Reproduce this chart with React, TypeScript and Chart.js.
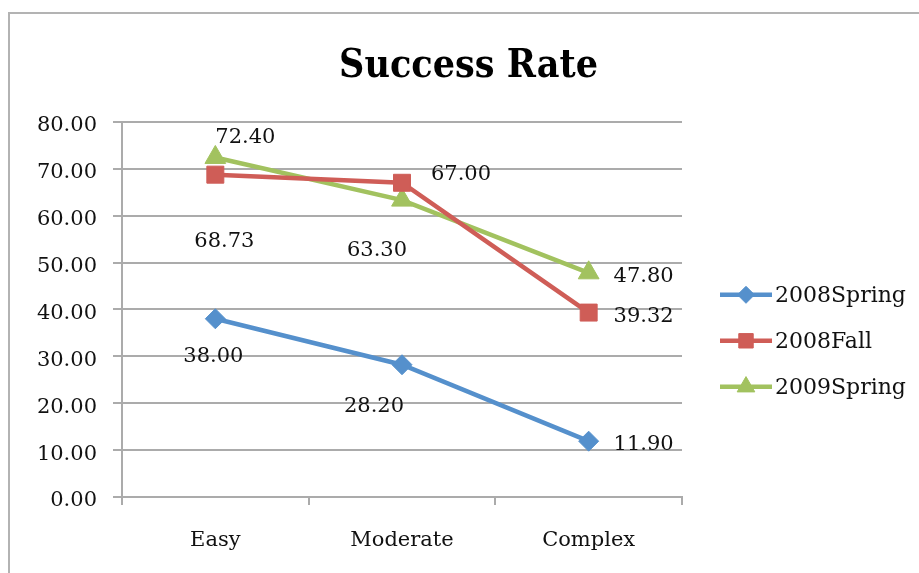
import React, { useEffect, useRef } from 'react';
import { Chart, registerables, layouts } from 'chart.js';
import { drawPoint } from 'chart.js/helpers';

Chart.register(...registerables);

// ---- data ----
const categories = ['Easy', 'Moderate', 'Complex'];
const seriesNames = ['2008Spring', '2008Fall', '2009Spring'];
const spring2008 = [38.0, 28.2, 11.9];
const fall2008 = [68.73, 67.0, 39.32];
const spring2009 = [72.4, 63.3, 47.8];
const yMin = 0;
const yMax = 80;
const yStep = 10;

// ---- styles ----
const SERIF = "'DejaVu Serif', serif";
const TITLE_FONT = "'DejaVu Serif Condensed', 'DejaVu Serif', serif";
const TEXT = '#111111';
const GRID = '#ababab';
const colors = ['#5590CC', '#CF5D57', '#A2C25F'];
const pointStyles = ['rectRot', 'rect', 'triangle'];
const pointRadii = [10, 12, 12];
// data label placement (px offset from each point), as in the original
const labelOffsets = [
  [[-2, 37.5], [-28, 41.5], [55, 3.5]],
  [[9, 66.5], [59, -8.5], [55, 3.5]],
  [[30, -19.5], [-25, 50.5], [55, 3.5]],
];
const LEGEND_WIDTH = 237;

const dataLabelPlugin = {
  id: 'dataLabels',
  afterDatasetsDraw(chart: any) {
    const ctx = chart.ctx;
    ctx.save();
    ctx.font = `21px ${SERIF}`;
    ctx.fillStyle = TEXT;
    ctx.textAlign = 'center';
    ctx.textBaseline = 'middle';
    chart.data.datasets.forEach((ds: any, di: number) => {
      const meta = chart.getDatasetMeta(di);
      meta.data.forEach((pt: any, i: number) => {
        const [dx, dy] = labelOffsets[di][i];
        ctx.fillText(Number(ds.data[i]).toFixed(2), pt.x + dx, pt.y + dy);
      });
    });
    ctx.restore();
  },
};

const sideLegendPlugin = {
  id: 'sideLegend',
  beforeInit(chart: any) {
    const box: any = {
      position: 'right',
      weight: 1000,
      fullSize: false,
      options: { stack: undefined, stackWeight: 1 },
      left: 0, top: 0, right: 0, bottom: 0, width: 0, height: 0,
      isHorizontal() { return false; },
      update(_mw: number, mh: number) { this.width = LEGEND_WIDTH; this.height = mh; },
      draw() {
        const ctx = chart.ctx;
        ctx.save();
        chart.data.datasets.forEach((ds: any, i: number) => {
          const y = this.top + 173 + i * 46;
          const x0 = this.left + 38;
          const x1 = x0 + 52;
          ctx.strokeStyle = ds.borderColor;
          ctx.lineWidth = ds.borderWidth;
          ctx.beginPath();
          ctx.moveTo(x0, y);
          ctx.lineTo(x1, y);
          ctx.stroke();
          ctx.fillStyle = ds.pointBackgroundColor;
          ctx.strokeStyle = ds.pointBorderColor;
          ctx.lineWidth = 1;
          drawPoint(ctx, { pointStyle: ds.pointStyle, radius: ds.pointRadius * 0.85, rotation: 0, borderWidth: 1 } as any, (x0 + x1) / 2, y);
          ctx.fillStyle = TEXT;
          ctx.font = `22px ${SERIF}`;
          ctx.textAlign = 'left';
          ctx.textBaseline = 'middle';
          ctx.fillText(ds.label, x1 + 3, y + 1);
        });
        ctx.restore();
      },
    };
    layouts.addBox(chart, box);
  },
};

export default function App() {
  const ref = useRef<HTMLCanvasElement | null>(null);

  useEffect(() => {
    document.body.style.margin = '0';
    document.body.style.overflow = 'hidden';
    if (!ref.current) return;
    const seriesData = [spring2008, fall2008, spring2009];
    const chart = new Chart(ref.current, {
      type: 'line',
      data: {
        labels: categories,
        datasets: seriesData.map((d, i) => ({
          label: seriesNames[i],
          data: d,
          borderColor: colors[i],
          backgroundColor: colors[i],
          borderWidth: 4.5,
          pointStyle: pointStyles[i] as any,
          pointRadius: pointRadii[i],
          pointHoverRadius: pointRadii[i],
          pointBackgroundColor: colors[i],
          pointBorderColor: colors[i],
          pointBorderWidth: 1,
          tension: 0,
          fill: false,
        })),
      },
      options: {
        responsive: false,
        animation: false,
        layout: { padding: { left: 8, top: 0, right: 0, bottom: 0 } },
        plugins: {
          legend: { display: false },
          tooltip: { enabled: false },
          title: {
            display: true,
            text: 'Success Rate',
            color: '#000',
            font: { family: TITLE_FONT, size: 39, weight: 'bold', lineHeight: 1.2 },
            padding: { top: 29, bottom: 32 },
          },
        },
        scales: {
          x: {
            type: 'category',
            offset: true,
            grid: { offset: true, drawOnChartArea: false, drawTicks: true, tickLength: 8, color: GRID, lineWidth: 2 },
            border: { display: true, color: GRID, width: 2 },
            ticks: { font: { family: SERIF, size: 21 }, color: TEXT, padding: 23, maxRotation: 0 },
            afterFit(s: any) { s.height = 76; },
          },
          y: {
            min: yMin,
            max: yMax,
            ticks: {
              stepSize: yStep,
              callback: (v: any) => Number(v).toFixed(2),
              font: { family: SERIF, size: 21 },
              color: TEXT,
              padding: 16,
              labelOffset: 4,
            },
            grid: { color: GRID, lineWidth: 2, tickLength: 9 },
            border: { display: true, color: GRID, width: 2 },
            afterFit(s: any) { s.width = 104; },
          },
        },
      },
      plugins: [dataLabelPlugin, sideLegendPlugin],
    });
    return () => chart.destroy();
  }, []);

  return (
    <div
      style={{
        position: 'absolute',
        left: 8,
        top: 12,
        width: 911,
        height: 561,
        borderTop: '2px solid #b3b3b3',
        borderLeft: '2px solid #b3b3b3',
        background: '#fff',
        boxSizing: 'border-box',
      }}
    >
      <canvas ref={ref} width={909} height={559} style={{ display: 'block' }} />
    </div>
  );
}
